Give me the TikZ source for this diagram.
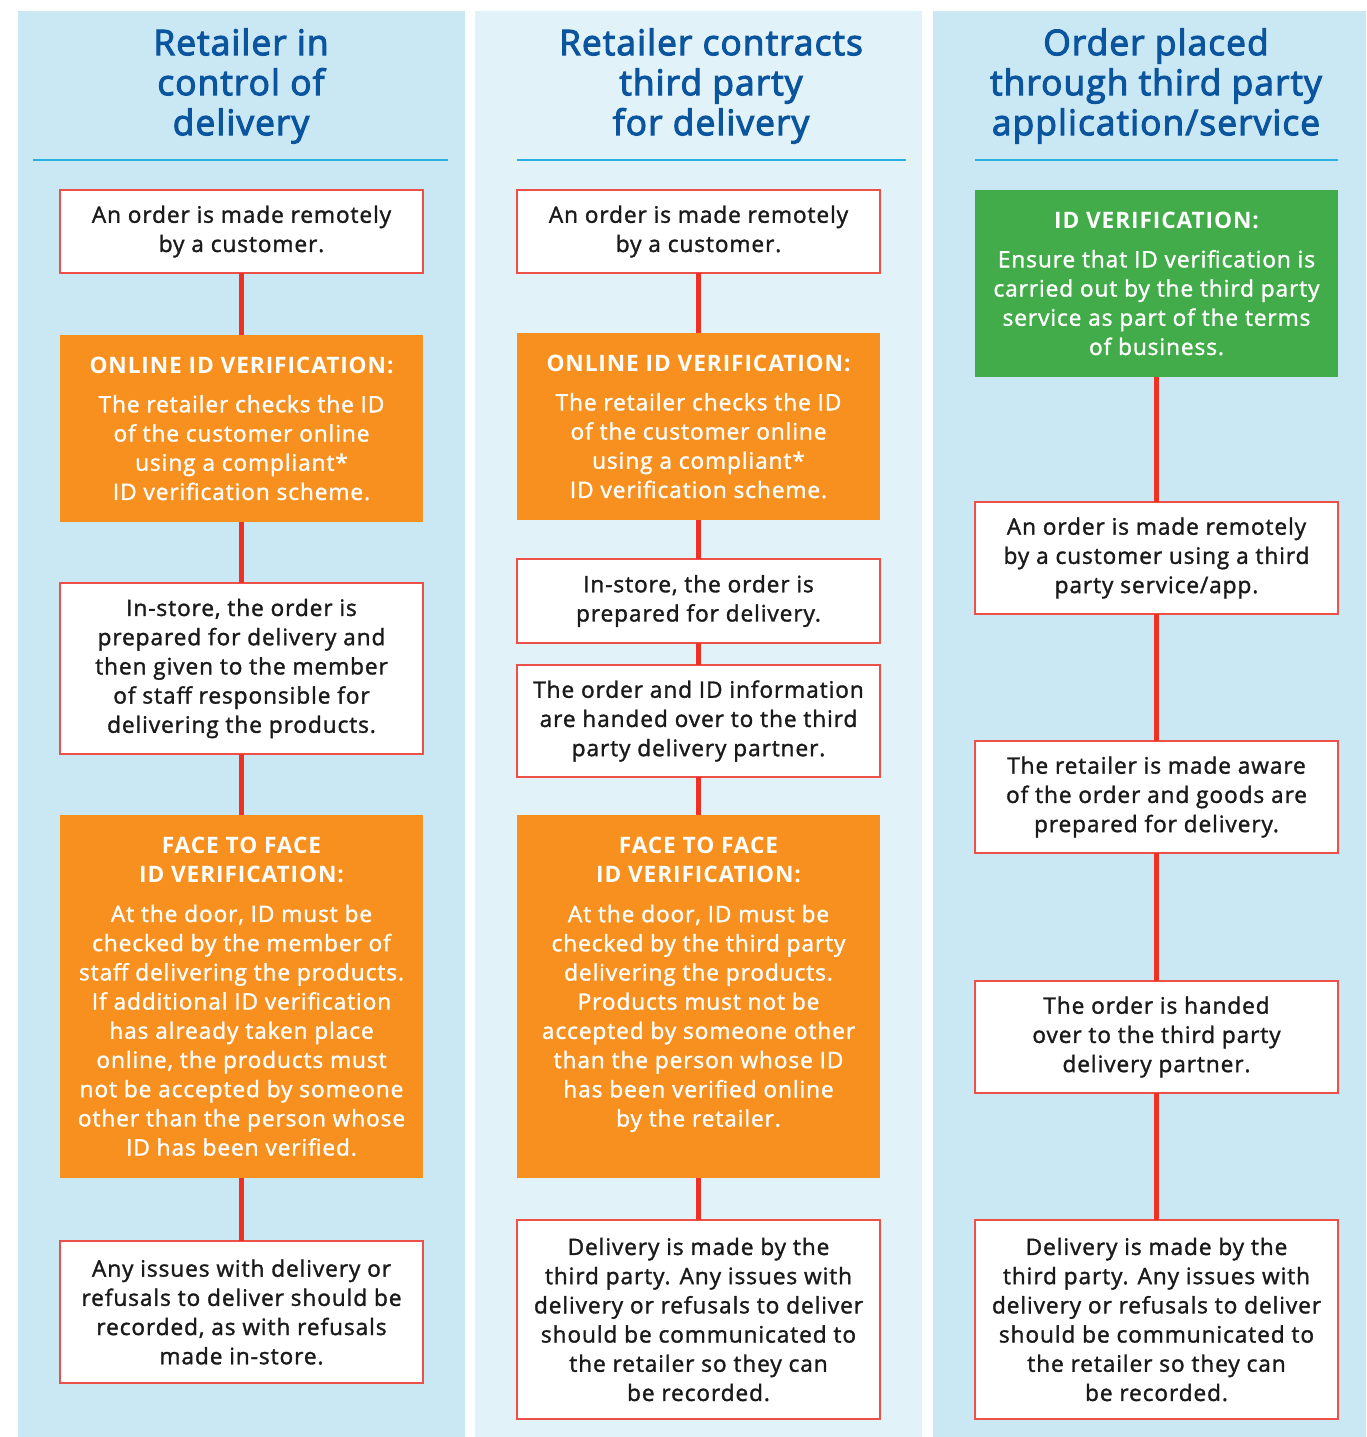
\documentclass[tikz,border=0pt]{standalone}
\usepackage{fontspec}
\setmainfont{Open Sans}
\newfontfamily\bodyfont[FakeBold=1.5,LetterSpace=4]{Open Sans}
\newfontfamily\headfont[LetterSpace=4]{Open Sans Bold}
\newfontfamily\titlefont[FakeBold=3,LetterSpace=3]{Open Sans}
\definecolor{bgA}{RGB}{201,232,244}
\definecolor{bgB}{RGB}{225,242,248}
\definecolor{sepc}{RGB}{43,176,227}
\definecolor{titleblue}{RGB}{11,84,158}
\definecolor{orangec}{RGB}{247,144,30}
\definecolor{greenc}{RGB}{67,172,74}
\definecolor{borderred}{RGB}{236,80,70}
\definecolor{linkred}{RGB}{238,49,36}
\definecolor{textdark}{RGB}{26,26,26}
\tikzset{
  sz/.style 2 args={minimum width=#1*0.75pt, minimum height=#2*0.75pt},
  basebox/.style={rectangle, inner sep=0pt, outer sep=0pt, align=center,
    font=\bodyfont\fontsize{17}{21.9}\selectfont},
  wbox/.style={basebox, draw=borderred, line width=1.1pt, fill=white, text=textdark},
  obox/.style={basebox, fill=orangec, text=white},
  gbox/.style={basebox, fill=greenc, text=white},
  link/.style={draw=linkred, line width=3.8pt},
  sepline/.style={draw=sepc, line width=1.3pt},
  titletext/.style={align=center, text=titleblue, inner sep=0pt,
    font=\titlefont\fontsize{26.5}{30}\selectfont},
}
\newcommand{\hd}[1]{{\headfont #1}\\[7.5pt]}
\begin{document}
\begin{tikzpicture}[x=0.75pt,y=-0.75pt]
\useasboundingbox (0,0) rectangle (1366,1437);
\fill[white] (0,0) rectangle (1366,1437);
\fill[bgA] (18,11) rectangle (465,1437);
\fill[bgB] (475,11) rectangle (922,1437);
\fill[bgA] (933,11) rectangle (1366,1437);
% titles
\node[titletext] (T1) at (241,86) {Retailer in\\control of\\delivery};
\node[titletext] (T2) at (711,86) {Retailer contracts\\third party\\for delivery};
\node[titletext] (T3) at (1156,86) {Order placed\\through third party\\application/service};
\coordinate (S1a) at (33,160); \coordinate (S1b) at (448,160);
\coordinate (S2a) at (517,160); \coordinate (S2b) at (906,160);
\coordinate (S3a) at (975,160); \coordinate (S3b) at (1338,160);
\draw[sepline] (S1a) -- (S1b);
\draw[sepline] (S2a) -- (S2b);
\draw[sepline] (S3a) -- (S3b);
% column 1
\node[wbox, sz={363}{83}] (A1) at (241.5,231.5) {An order is made remotely\\by a customer.};
\node[obox, sz={363}{187}] (A2) at (241.5,428.5) {\hd{ONLINE ID VERIFICATION:}The retailer checks the ID\\of the customer online\\using a compliant*\\ID verification scheme.};
\node[wbox, sz={363}{171}] (A3) at (241.5,668.5) {In-store, the order is\\prepared for delivery and\\then given to the member\\of staff responsible for\\delivering the products.};
\node[obox, sz={363}{363}] (A4) at (241.5,996.5) {{\headfont FACE TO FACE}\\\hd{ID VERIFICATION:}At the door, ID must be\\checked by the member of\\staff delivering the products.\\If additional ID verification\\has already taken place\\online, the products must\\not be accepted by someone\\other than the person whose\\ID has been verified.};
\node[wbox, sz={363}{142}] (A5) at (241.5,1312) {Any issues with delivery or\\refusals to deliver should be\\recorded, as with refusals\\made in-store.};
\draw[link] (A1.south) -- (A2.north);
\draw[link] (A2.south) -- (A3.north);
\draw[link] (A3.south) -- (A4.north);
\draw[link] (A4.south) -- (A5.north);
% column 2
\node[wbox, sz={363}{83}] (B1) at (698.5,231.5) {An order is made remotely\\by a customer.};
\node[obox, sz={363}{187}] (B2) at (698.5,426.5) {\hd{ONLINE ID VERIFICATION:}The retailer checks the ID\\of the customer online\\using a compliant*\\ID verification scheme.};
\node[wbox, sz={363}{84}] (B3) at (698.5,601) {In-store, the order is\\prepared for delivery.};
\node[wbox, sz={363}{112}] (B4) at (698.5,721) {The order and ID information\\are handed over to the third\\party delivery partner.};
\node[obox, sz={363}{363}] (B5) at (698.5,996.5) {{\headfont FACE TO FACE}\\\hd{ID VERIFICATION:}At the door, ID must be\\checked by the third party\\delivering the products.\\Products must not be\\accepted by someone other\\than the person whose ID\\has been verified online\\by the retailer.\\\mbox{}};
\node[wbox, sz={363}{199}] (B6) at (698.5,1319.5) {Delivery is made by the\\third party. Any issues with\\delivery or refusals to deliver\\should be communicated to\\the retailer so they can\\be recorded.};
\draw[link] (B1.south) -- (B2.north);
\draw[link] (B2.south) -- (B3.north);
\draw[link] (B3.south) -- (B4.north);
\draw[link] (B4.south) -- (B5.north);
\draw[link] (B5.south) -- (B6.north);
% column 3
\node[gbox, sz={363}{187}] (C1) at (1156.5,283.5) {\hd{ID VERIFICATION:}Ensure that ID verification is\\carried out by the third party\\service as part of the terms\\of business.};
\node[wbox, sz={363}{112}] (C2) at (1156.5,558) {An order is made remotely\\by a customer using a third\\party service/app.};
\node[wbox, sz={363}{112}] (C3) at (1156.5,797) {The retailer is made aware\\of the order and goods are\\prepared for delivery.};
\node[wbox, sz={363}{112}] (C4) at (1156.5,1037) {The order is handed\\over to the third party\\delivery partner.};
\node[wbox, sz={363}{199}] (C5) at (1156.5,1319.5) {Delivery is made by the\\third party. Any issues with\\delivery or refusals to deliver\\should be communicated to\\the retailer so they can\\be recorded.};
\draw[link] (C1.south) -- (C2.north);
\draw[link] (C2.south) -- (C3.north);
\draw[link] (C3.south) -- (C4.north);
\draw[link] (C4.south) -- (C5.north);
\end{tikzpicture}
\end{document}
